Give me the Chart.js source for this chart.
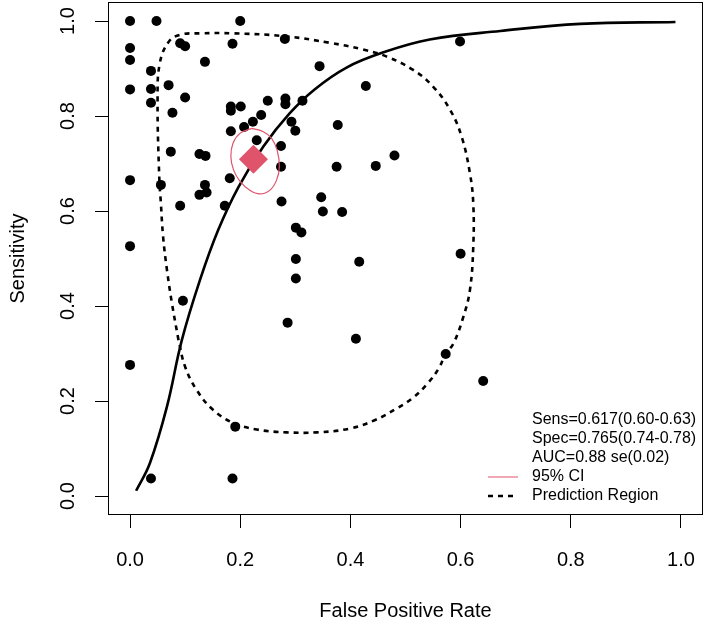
<!DOCTYPE html>
<html>
<head>
<meta charset="utf-8">
<script src="https://cdn.jsdelivr.net/npm/chart.js@4.4.1/dist/chart.umd.min.js"></script>
<style>
  body { margin: 0; background: #fff; }
</style>
</head>
<body>
<canvas id="sroc" width="708" height="628"></canvas>
<script>
// study points (false positive rate, sensitivity)
const studyFpr = [0.000, 0.048, 0.200, 0.091, 0.100, 0.186, 0.281, 0.599, 0.000, 0.000,
  0.136, 0.344, 0.038, 0.000, 0.038, 0.070, 0.428, 0.100, 0.038, 0.077,
  0.183, 0.201, 0.183, 0.250, 0.282, 0.282, 0.313, 0.238, 0.223, 0.207,
  0.183, 0.293, 0.300, 0.377, 0.230, 0.274, 0.074, 0.126, 0.137, 0.480,
  0.274, 0.375, 0.446, 0.000, 0.056, 0.136, 0.181, 0.126, 0.139, 0.347,
  0.275, 0.091, 0.172, 0.350, 0.385, 0.301, 0.311, 0.000, 0.600, 0.301,
  0.416, 0.301, 0.096, 0.286, 0.410, 0.000, 0.573, 0.641, 0.191, 0.038, 0.186];
const studySens = [1.000, 1.000, 1.000, 0.953, 0.947, 0.952, 0.962, 0.957, 0.943, 0.918,
  0.914, 0.905, 0.895, 0.856, 0.857, 0.865, 0.863, 0.839, 0.828, 0.807,
  0.820, 0.820, 0.811, 0.832, 0.837, 0.825, 0.832, 0.802, 0.788, 0.777,
  0.768, 0.788, 0.769, 0.781, 0.749, 0.737, 0.725, 0.720, 0.716, 0.717,
  0.693, 0.693, 0.695, 0.665, 0.655, 0.655, 0.669, 0.634, 0.639, 0.629,
  0.620, 0.611, 0.611, 0.599, 0.598, 0.565, 0.555, 0.526, 0.510, 0.499,
  0.493, 0.458, 0.411, 0.365, 0.331, 0.276, 0.299, 0.242, 0.146, 0.037, 0.037];

// SROC curve
const srocFpr = [0.011, 0.036, 0.067, 0.094, 0.127, 0.160, 0.197, 0.242, 0.290, 0.335,
  0.393, 0.460, 0.544, 0.672, 0.817, 0.990];
const srocSens = [0.011, 0.069, 0.188, 0.328, 0.455, 0.560, 0.651, 0.736, 0.806, 0.856,
  0.902, 0.934, 0.961, 0.979, 0.994, 0.998];

// prediction region outline
const predFpr = [0.088, 0.076, 0.067, 0.060, 0.056, 0.053, 0.050, 0.054, 0.070, 0.091,
  0.127, 0.187, 0.281, 0.363, 0.423, 0.466, 0.514, 0.550, 0.581, 0.602,
  0.617, 0.623, 0.623, 0.617, 0.605, 0.587, 0.573, 0.560, 0.541, 0.515,
  0.485, 0.445, 0.399, 0.339, 0.284, 0.230, 0.187, 0.151, 0.121, 0.100, 0.088];
const predSens = [0.328, 0.406, 0.476, 0.546, 0.616, 0.672, 0.834, 0.911, 0.956, 0.971,
  0.974, 0.974, 0.968, 0.954, 0.940, 0.925, 0.897, 0.862, 0.813, 0.756,
  0.679, 0.616, 0.525, 0.434, 0.377, 0.321, 0.299, 0.268, 0.238, 0.208,
  0.185, 0.160, 0.142, 0.134, 0.134, 0.140, 0.154, 0.181, 0.223, 0.272, 0.328];

// 95% confidence region of the summary point
const ciFpr = [0.221, 0.242, 0.257, 0.267, 0.271, 0.266, 0.254, 0.236, 0.218, 0.200,
  0.188, 0.183, 0.187, 0.200, 0.221];
const ciSens = [0.774, 0.767, 0.753, 0.728, 0.693, 0.665, 0.644, 0.636, 0.643, 0.662,
  0.686, 0.714, 0.743, 0.764, 0.774];

// summary point
const summaryFpr = [0.224];
const summarySens = [0.709];

const tickValues = [0, 0.2, 0.4, 0.6, 0.8, 1.0];
const statLines = ['Sens=0.617(0.60-0.63)', 'Spec=0.765(0.74-0.78)', 'AUC=0.88 se(0.02)'];
const legendLabels = ['95% CI', 'Prediction Region'];

const pink = '#DF536B';
const fontFamily = '"Liberation Sans", Arial, sans-serif';

const toXY = (xs, ys) => xs.map((x, i) => ({ x: x, y: ys[i] }));

// box round the plot region
const boxPlugin = {
  id: 'plotBox',
  afterDraw(chart) {
    const { ctx, chartArea: a } = chart;
    ctx.save();
    ctx.strokeStyle = '#000';
    ctx.lineWidth = 1;
    ctx.strokeRect(a.left + 0.5, a.top + 0.5, a.right - a.left - 1, a.bottom - a.top - 1);
    ctx.restore();
  }
};

// stats text and legend, bottom right
const statsPlugin = {
  id: 'statsLegend',
  afterDraw(chart) {
    const { ctx, chartArea: a } = chart;
    const textX = a.right - 171;
    const rowH = 19;
    const firstY = a.bottom - 19 - 4 * rowH;
    ctx.save();
    ctx.font = '16px ' + fontFamily;
    ctx.fillStyle = '#000';
    ctx.textAlign = 'left';
    ctx.textBaseline = 'middle';
    statLines.forEach((t, i) => ctx.fillText(t, textX, firstY + i * rowH));
    legendLabels.forEach((t, i) => ctx.fillText(t, textX, firstY + (3 + i) * rowH));

    // line samples
    let y = firstY + 3 * rowH;
    ctx.strokeStyle = pink;
    ctx.lineWidth = 1;
    ctx.beginPath();
    ctx.moveTo(textX - 44, y);
    ctx.lineTo(textX - 14, y);
    ctx.stroke();

    y = firstY + 4 * rowH;
    ctx.strokeStyle = '#000';
    ctx.lineWidth = 2.5;
    ctx.setLineDash([5, 5]);
    ctx.beginPath();
    ctx.moveTo(textX - 44, y);
    ctx.lineTo(textX - 14, y);
    ctx.stroke();
    ctx.restore();
  }
};

// no extra room for end labels: the plot region already has a 4% margin
const clearPadding = (scale) => {
  scale.paddingLeft = 0;
  scale.paddingRight = 0;
  scale.paddingTop = 0;
  scale.paddingBottom = 0;
};

const axisCommon = {
  type: 'linear',
  min: -0.04,
  max: 1.04,
  afterBuildTicks: (scale) => {
    scale.ticks = tickValues.map(v => ({ value: v }));
  },
  grid: {
    drawOnChartArea: false,
    drawTicks: true,
    tickLength: 13,
    color: '#000',
    lineWidth: 1
  },
  border: { display: false }
};

const chartCanvas = document.querySelector('#sroc');

const srocChart = new Chart(chartCanvas, {
  type: 'scatter',
  data: {
    datasets: [
      {
        label: 'Summary',
        data: toXY(summaryFpr, summarySens),
        pointStyle: 'rectRot',
        pointRadius: 14.5,
        pointBackgroundColor: pink,
        pointBorderWidth: 0
      },
      {
        label: '95% CI',
        data: toXY(ciFpr, ciSens),
        showLine: true,
        borderColor: pink,
        borderWidth: 1.2,
        pointRadius: 0,
        tension: 0.4
      },
      {
        label: 'SROC',
        data: toXY(srocFpr, srocSens),
        showLine: true,
        borderColor: '#000',
        borderWidth: 2.6,
        pointRadius: 0,
        tension: 0.4
      },
      {
        label: 'Prediction Region',
        data: toXY(predFpr, predSens),
        showLine: true,
        borderColor: '#000',
        borderWidth: 2.6,
        borderDash: [5, 5],
        pointRadius: 0,
        tension: 0.4
      },
      {
        label: 'Studies',
        data: toXY(studyFpr, studySens),
        pointRadius: 5,
        pointBackgroundColor: '#000',
        pointBorderWidth: 0
      }
    ]
  },
  options: {
    responsive: false,
    animation: false,
    layout: { autoPadding: false, padding: { top: 2, right: 5, bottom: 0, left: 0 } },
    plugins: {
      legend: { display: false },
      tooltip: { enabled: false }
    },
    scales: {
      x: Object.assign({}, axisCommon, {
        afterFit: (scale) => { scale.height = 113; clearPadding(scale); },
        ticks: {
          color: '#000',
          font: { family: fontFamily, size: 20 },
          padding: 20,
          maxRotation: 0,
          callback: (v) => Number(v).toFixed(1)
        },
        title: {
          display: true,
          text: 'False Positive Rate',
          color: '#000',
          font: { family: fontFamily, size: 20 },
          padding: { top: 0, bottom: 5 }
        }
      }),
      y: Object.assign({}, axisCommon, {
        afterFit: (scale) => { scale.width = 108; clearPadding(scale); },
        ticks: {
          color: '#000',
          font: { family: fontFamily, size: 20 },
          padding: 13,
          minRotation: 90,
          maxRotation: 90,
          crossAlign: 'center',
          callback: (v) => Number(v).toFixed(1)
        },
        title: {
          display: true,
          text: 'Sensitivity',
          color: '#000',
          font: { family: fontFamily, size: 20 },
          padding: { top: 6, bottom: 0 }
        }
      })
    }
  },
  plugins: [boxPlugin, statsPlugin]
});
</script>
</body>
</html>
